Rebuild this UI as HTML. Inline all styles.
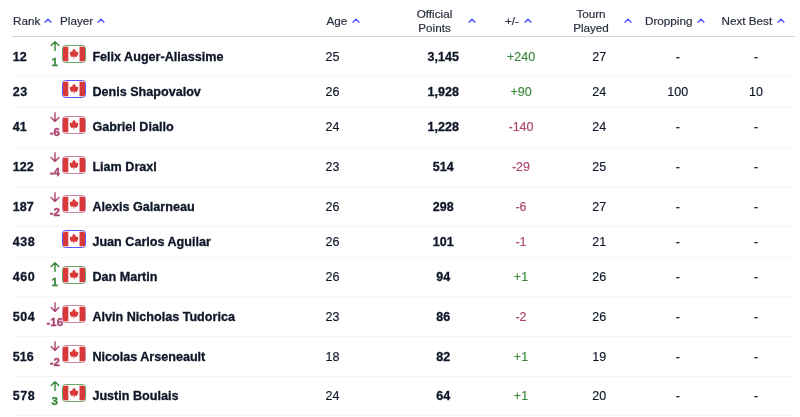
<!DOCTYPE html>
<html><head><meta charset="utf-8"><style>
html,body{margin:0;padding:0;background:#fff;}
body{width:800px;height:417px;position:relative;overflow:hidden;will-change:transform;font-family:"Liberation Sans",sans-serif;}
.h{position:absolute;font-size:11.7px;color:#2a3040;-webkit-text-stroke:0.2px #2a3040;line-height:14px;white-space:nowrap;}
.caret{position:absolute;}
.arr{position:absolute;}
.hb{position:absolute;left:12px;width:783px;height:1px;background:#d4d4d6;}
.sep{position:absolute;left:12px;width:783px;height:1px;background:#f5f5f6;}
.sep2{position:absolute;left:12px;width:783px;height:2px;background:#fafafb;}
.t{position:absolute;font-size:12.5px;line-height:16px;color:#0e1628;-webkit-text-stroke:0.15px currentColor;white-space:nowrap;}
.c{text-align:center;width:80px;}
.b{font-weight:bold;-webkit-text-stroke:0.3px currentColor;}
.mv{position:absolute;-webkit-text-stroke:0.35px currentColor;font-size:11.5px;line-height:12px;font-weight:bold;text-align:center;width:30px;white-space:nowrap;}
.flag{position:absolute;width:22px;height:16px;border:1px solid;border-radius:3.5px;overflow:hidden;background:#fff;}
.flag svg{display:block;}
</style></head><body>

<div class="h" style="left:13px;top:13.8px">Rank</div>
<svg class="caret" style="left:43.6px;top:18.2px" width="8" height="6" viewBox="0 0 8 6"><path d="M1 4.2 L4 1.1 L7 4.2" fill="none" stroke="#4b4bff" stroke-width="1.3" stroke-linecap="round" stroke-linejoin="round"/></svg>
<div class="h" style="left:60px;top:13.8px">Player</div>
<svg class="caret" style="left:96.7px;top:18.2px" width="8" height="6" viewBox="0 0 8 6"><path d="M1 4.2 L4 1.1 L7 4.2" fill="none" stroke="#4b4bff" stroke-width="1.3" stroke-linecap="round" stroke-linejoin="round"/></svg>
<div class="h" style="left:326.5px;top:13.8px">Age</div>
<svg class="caret" style="left:351.7px;top:18.2px" width="8" height="6" viewBox="0 0 8 6"><path d="M1 4.2 L4 1.1 L7 4.2" fill="none" stroke="#4b4bff" stroke-width="1.3" stroke-linecap="round" stroke-linejoin="round"/></svg>
<div class="h" style="left:394.5px;top:6.6px;width:80px;text-align:center;width:40px;left:414.5px">Official<br>Points</div>
<svg class="caret" style="left:467.7px;top:18.2px" width="8" height="6" viewBox="0 0 8 6"><path d="M1 4.2 L4 1.1 L7 4.2" fill="none" stroke="#4b4bff" stroke-width="1.3" stroke-linecap="round" stroke-linejoin="round"/></svg>
<div class="h" style="left:505px;top:13.8px">+/-</div>
<svg class="caret" style="left:523.7px;top:18.2px" width="8" height="6" viewBox="0 0 8 6"><path d="M1 4.2 L4 1.1 L7 4.2" fill="none" stroke="#4b4bff" stroke-width="1.3" stroke-linecap="round" stroke-linejoin="round"/></svg>
<div class="h" style="left:571px;top:6.6px;width:40px;text-align:center">Tourn<br>Played</div>
<svg class="caret" style="left:623.7px;top:18.2px" width="8" height="6" viewBox="0 0 8 6"><path d="M1 4.2 L4 1.1 L7 4.2" fill="none" stroke="#4b4bff" stroke-width="1.3" stroke-linecap="round" stroke-linejoin="round"/></svg>
<div class="h" style="left:645px;top:13.8px">Dropping</div>
<svg class="caret" style="left:696.7px;top:18.2px" width="8" height="6" viewBox="0 0 8 6"><path d="M1 4.2 L4 1.1 L7 4.2" fill="none" stroke="#4b4bff" stroke-width="1.3" stroke-linecap="round" stroke-linejoin="round"/></svg>
<div class="h" style="left:721.5px;top:13.8px">Next Best</div>
<svg class="caret" style="left:776.7px;top:18.2px" width="8" height="6" viewBox="0 0 8 6"><path d="M1 4.2 L4 1.1 L7 4.2" fill="none" stroke="#4b4bff" stroke-width="1.3" stroke-linecap="round" stroke-linejoin="round"/></svg>
<div class="hb" style="top:36px"></div>
<div class="t b" style="left:12.8px;top:48.5px;letter-spacing:0px">12</div>
<svg class="arr" style="left:49.6px;top:41.3px" width="10" height="10" viewBox="0 0 10 10"><path d="M5 9.4 L5 0.8 M1.2 4.6 L5 0.8 L8.8 4.6" fill="none" stroke="#3b873b" stroke-width="1.4" stroke-linecap="round" stroke-linejoin="round"/></svg>
<div class="mv" style="left:39.8px;top:55.6px;color:#3b873b">1</div>
<div class="flag" style="left:62px;top:45px;border-color:#6aa66a"><svg width="22" height="16" viewBox="0 0 22 16"><rect x="0" y="0.7" width="22" height="14.6" fill="#fff"/><rect x="0" y="0.7" width="5.3" height="14.6" fill="#d8383a"/><rect x="16.5" y="0.7" width="5.5" height="14.6" fill="#d8383a"/><path d="M11 2.7 L12.6 4.6 L12.8 6.1 L14 5.6 L15.2 6.2 L15 8.8 L13.6 10.9 L11.4 10.6 L11.3 12.8 L10.7 12.8 L10.6 10.6 L8.4 10.9 L7 8.8 L6.8 6.2 L8 5.6 L9.2 6.1 L9.4 4.6 Z" fill="#d8383a"/></svg></div>
<div class="t b" style="left:92.4px;top:48.5px;font-size:12.6px">Felix Auger-Aliassime</div>
<div class="t" style="left:325.5px;top:48.5px">25</div>
<div class="t b c" style="left:403.2px;top:48.5px">3,145</div>
<div class="t c" style="left:481px;top:48.5px;color:#3b873b">+240</div>
<div class="t c" style="left:559.2px;top:48.5px">27</div>
<div class="t c" style="left:637.8px;top:48.5px">-</div>
<div class="t c" style="left:716px;top:48.5px">-</div>
<div class="sep" style="top:76px"></div>
<div class="t b" style="left:12.8px;top:83.75px;letter-spacing:0.5px">23</div>
<div class="flag" style="left:62px;top:80px;border-color:#5b5bff"><svg width="22" height="16" viewBox="0 0 22 16"><rect x="0" y="0.7" width="22" height="14.6" fill="#fff"/><rect x="0" y="0.7" width="5.3" height="14.6" fill="#d8383a"/><rect x="16.5" y="0.7" width="5.5" height="14.6" fill="#d8383a"/><path d="M11 2.7 L12.6 4.6 L12.8 6.1 L14 5.6 L15.2 6.2 L15 8.8 L13.6 10.9 L11.4 10.6 L11.3 12.8 L10.7 12.8 L10.6 10.6 L8.4 10.9 L7 8.8 L6.8 6.2 L8 5.6 L9.2 6.1 L9.4 4.6 Z" fill="#d8383a"/></svg></div>
<div class="t b" style="left:92.4px;top:83.75px;font-size:12.6px">Denis Shapovalov</div>
<div class="t" style="left:325.5px;top:83.75px">26</div>
<div class="t b c" style="left:403.2px;top:83.75px">1,928</div>
<div class="t c" style="left:481px;top:83.75px;color:#3b873b">+90</div>
<div class="t c" style="left:559.2px;top:83.75px">24</div>
<div class="t c" style="left:637.8px;top:83.75px">100</div>
<div class="t c" style="left:716px;top:83.75px">10</div>
<div class="sep2" style="top:106px"></div>
<div class="t b" style="left:12.8px;top:119.25px;letter-spacing:0px">41</div>
<svg class="arr" style="left:49.6px;top:112.05px" width="10" height="10" viewBox="0 0 10 10"><path d="M5 0.8 L5 9.4 M1.2 5.6 L5 9.4 L8.8 5.6" fill="none" stroke="#ab4470" stroke-width="1.4" stroke-linecap="round" stroke-linejoin="round"/></svg>
<div class="mv" style="left:39.8px;top:126.35px;color:#ab4470">-6</div>
<div class="flag" style="left:62px;top:116px;border-color:#c98aa5"><svg width="22" height="16" viewBox="0 0 22 16"><rect x="0" y="0.7" width="22" height="14.6" fill="#fff"/><rect x="0" y="0.7" width="5.3" height="14.6" fill="#d8383a"/><rect x="16.5" y="0.7" width="5.5" height="14.6" fill="#d8383a"/><path d="M11 2.7 L12.6 4.6 L12.8 6.1 L14 5.6 L15.2 6.2 L15 8.8 L13.6 10.9 L11.4 10.6 L11.3 12.8 L10.7 12.8 L10.6 10.6 L8.4 10.9 L7 8.8 L6.8 6.2 L8 5.6 L9.2 6.1 L9.4 4.6 Z" fill="#d8383a"/></svg></div>
<div class="t b" style="left:92.4px;top:119.25px;font-size:12.6px">Gabriel Diallo</div>
<div class="t" style="left:325.5px;top:119.25px">24</div>
<div class="t b c" style="left:403.2px;top:119.25px">1,228</div>
<div class="t c" style="left:481px;top:119.25px;color:#ab4470">-140</div>
<div class="t c" style="left:559.2px;top:119.25px">24</div>
<div class="t c" style="left:637.8px;top:119.25px">-</div>
<div class="t c" style="left:716px;top:119.25px">-</div>
<div class="sep" style="top:147px"></div>
<div class="t b" style="left:12.8px;top:159.25px;letter-spacing:0px">122</div>
<svg class="arr" style="left:49.6px;top:152.05px" width="10" height="10" viewBox="0 0 10 10"><path d="M5 0.8 L5 9.4 M1.2 5.6 L5 9.4 L8.8 5.6" fill="none" stroke="#ab4470" stroke-width="1.4" stroke-linecap="round" stroke-linejoin="round"/></svg>
<div class="mv" style="left:39.8px;top:166.35px;color:#ab4470">-4</div>
<div class="flag" style="left:62px;top:156px;border-color:#c98aa5"><svg width="22" height="16" viewBox="0 0 22 16"><rect x="0" y="0.7" width="22" height="14.6" fill="#fff"/><rect x="0" y="0.7" width="5.3" height="14.6" fill="#d8383a"/><rect x="16.5" y="0.7" width="5.5" height="14.6" fill="#d8383a"/><path d="M11 2.7 L12.6 4.6 L12.8 6.1 L14 5.6 L15.2 6.2 L15 8.8 L13.6 10.9 L11.4 10.6 L11.3 12.8 L10.7 12.8 L10.6 10.6 L8.4 10.9 L7 8.8 L6.8 6.2 L8 5.6 L9.2 6.1 L9.4 4.6 Z" fill="#d8383a"/></svg></div>
<div class="t b" style="left:92.4px;top:159.25px;font-size:12.6px">Liam Draxl</div>
<div class="t" style="left:325.5px;top:159.25px">23</div>
<div class="t b c" style="left:403.2px;top:159.25px">514</div>
<div class="t c" style="left:481px;top:159.25px;color:#ab4470">-29</div>
<div class="t c" style="left:559.2px;top:159.25px">25</div>
<div class="t c" style="left:637.8px;top:159.25px">-</div>
<div class="t c" style="left:716px;top:159.25px">-</div>
<div class="sep2" style="top:186px"></div>
<div class="t b" style="left:12.8px;top:198.75px;letter-spacing:0px">187</div>
<svg class="arr" style="left:49.6px;top:191.55px" width="10" height="10" viewBox="0 0 10 10"><path d="M5 0.8 L5 9.4 M1.2 5.6 L5 9.4 L8.8 5.6" fill="none" stroke="#ab4470" stroke-width="1.4" stroke-linecap="round" stroke-linejoin="round"/></svg>
<div class="mv" style="left:39.8px;top:205.85px;color:#ab4470">-2</div>
<div class="flag" style="left:62px;top:195px;border-color:#c98aa5"><svg width="22" height="16" viewBox="0 0 22 16"><rect x="0" y="0.7" width="22" height="14.6" fill="#fff"/><rect x="0" y="0.7" width="5.3" height="14.6" fill="#d8383a"/><rect x="16.5" y="0.7" width="5.5" height="14.6" fill="#d8383a"/><path d="M11 2.7 L12.6 4.6 L12.8 6.1 L14 5.6 L15.2 6.2 L15 8.8 L13.6 10.9 L11.4 10.6 L11.3 12.8 L10.7 12.8 L10.6 10.6 L8.4 10.9 L7 8.8 L6.8 6.2 L8 5.6 L9.2 6.1 L9.4 4.6 Z" fill="#d8383a"/></svg></div>
<div class="t b" style="left:92.4px;top:198.75px;font-size:12.6px">Alexis Galarneau</div>
<div class="t" style="left:325.5px;top:198.75px">26</div>
<div class="t b c" style="left:403.2px;top:198.75px">298</div>
<div class="t c" style="left:481px;top:198.75px;color:#ab4470">-6</div>
<div class="t c" style="left:559.2px;top:198.75px">27</div>
<div class="t c" style="left:637.8px;top:198.75px">-</div>
<div class="t c" style="left:716px;top:198.75px">-</div>
<div class="sep" style="top:226px"></div>
<div class="t b" style="left:12.8px;top:234.0px;letter-spacing:0.5px">438</div>
<div class="flag" style="left:62px;top:230px;border-color:#5b5bff"><svg width="22" height="16" viewBox="0 0 22 16"><rect x="0" y="0.7" width="22" height="14.6" fill="#fff"/><rect x="0" y="0.7" width="5.3" height="14.6" fill="#d8383a"/><rect x="16.5" y="0.7" width="5.5" height="14.6" fill="#d8383a"/><path d="M11 2.7 L12.6 4.6 L12.8 6.1 L14 5.6 L15.2 6.2 L15 8.8 L13.6 10.9 L11.4 10.6 L11.3 12.8 L10.7 12.8 L10.6 10.6 L8.4 10.9 L7 8.8 L6.8 6.2 L8 5.6 L9.2 6.1 L9.4 4.6 Z" fill="#d8383a"/></svg></div>
<div class="t b" style="left:92.4px;top:234.0px;font-size:12.6px">Juan Carlos Aguilar</div>
<div class="t" style="left:325.5px;top:234.0px">26</div>
<div class="t b c" style="left:403.2px;top:234.0px">101</div>
<div class="t c" style="left:481px;top:234.0px;color:#ab4470">-1</div>
<div class="t c" style="left:559.2px;top:234.0px">21</div>
<div class="t c" style="left:637.8px;top:234.0px">-</div>
<div class="t c" style="left:716px;top:234.0px">-</div>
<div class="sep" style="top:257px"></div>
<div class="t b" style="left:12.8px;top:269.25px;letter-spacing:0.5px">460</div>
<svg class="arr" style="left:49.6px;top:262.05px" width="10" height="10" viewBox="0 0 10 10"><path d="M5 9.4 L5 0.8 M1.2 4.6 L5 0.8 L8.8 4.6" fill="none" stroke="#3b873b" stroke-width="1.4" stroke-linecap="round" stroke-linejoin="round"/></svg>
<div class="mv" style="left:39.8px;top:276.35px;color:#3b873b">1</div>
<div class="flag" style="left:62px;top:266px;border-color:#6aa66a"><svg width="22" height="16" viewBox="0 0 22 16"><rect x="0" y="0.7" width="22" height="14.6" fill="#fff"/><rect x="0" y="0.7" width="5.3" height="14.6" fill="#d8383a"/><rect x="16.5" y="0.7" width="5.5" height="14.6" fill="#d8383a"/><path d="M11 2.7 L12.6 4.6 L12.8 6.1 L14 5.6 L15.2 6.2 L15 8.8 L13.6 10.9 L11.4 10.6 L11.3 12.8 L10.7 12.8 L10.6 10.6 L8.4 10.9 L7 8.8 L6.8 6.2 L8 5.6 L9.2 6.1 L9.4 4.6 Z" fill="#d8383a"/></svg></div>
<div class="t b" style="left:92.4px;top:269.25px;font-size:12.6px">Dan Martin</div>
<div class="t" style="left:325.5px;top:269.25px">26</div>
<div class="t b c" style="left:403.2px;top:269.25px">94</div>
<div class="t c" style="left:481px;top:269.25px;color:#3b873b">+1</div>
<div class="t c" style="left:559.2px;top:269.25px">26</div>
<div class="t c" style="left:637.8px;top:269.25px">-</div>
<div class="t c" style="left:716px;top:269.25px">-</div>
<div class="sep2" style="top:296px"></div>
<div class="t b" style="left:12.8px;top:308.75px;letter-spacing:0.5px">504</div>
<svg class="arr" style="left:49.6px;top:301.55px" width="10" height="10" viewBox="0 0 10 10"><path d="M5 0.8 L5 9.4 M1.2 5.6 L5 9.4 L8.8 5.6" fill="none" stroke="#ab4470" stroke-width="1.4" stroke-linecap="round" stroke-linejoin="round"/></svg>
<div class="mv" style="left:39.8px;top:315.85px;color:#ab4470">-16</div>
<div class="flag" style="left:62px;top:305px;border-color:#c98aa5"><svg width="22" height="16" viewBox="0 0 22 16"><rect x="0" y="0.7" width="22" height="14.6" fill="#fff"/><rect x="0" y="0.7" width="5.3" height="14.6" fill="#d8383a"/><rect x="16.5" y="0.7" width="5.5" height="14.6" fill="#d8383a"/><path d="M11 2.7 L12.6 4.6 L12.8 6.1 L14 5.6 L15.2 6.2 L15 8.8 L13.6 10.9 L11.4 10.6 L11.3 12.8 L10.7 12.8 L10.6 10.6 L8.4 10.9 L7 8.8 L6.8 6.2 L8 5.6 L9.2 6.1 L9.4 4.6 Z" fill="#d8383a"/></svg></div>
<div class="t b" style="left:92.4px;top:308.75px;font-size:12.6px">Alvin Nicholas Tudorica</div>
<div class="t" style="left:325.5px;top:308.75px">23</div>
<div class="t b c" style="left:403.2px;top:308.75px">86</div>
<div class="t c" style="left:481px;top:308.75px;color:#ab4470">-2</div>
<div class="t c" style="left:559.2px;top:308.75px">26</div>
<div class="t c" style="left:637.8px;top:308.75px">-</div>
<div class="t c" style="left:716px;top:308.75px">-</div>
<div class="sep" style="top:336px"></div>
<div class="t b" style="left:12.8px;top:348.5px;letter-spacing:0px">516</div>
<svg class="arr" style="left:49.6px;top:341.3px" width="10" height="10" viewBox="0 0 10 10"><path d="M5 0.8 L5 9.4 M1.2 5.6 L5 9.4 L8.8 5.6" fill="none" stroke="#ab4470" stroke-width="1.4" stroke-linecap="round" stroke-linejoin="round"/></svg>
<div class="mv" style="left:39.8px;top:355.6px;color:#ab4470">-2</div>
<div class="flag" style="left:62px;top:345px;border-color:#c98aa5"><svg width="22" height="16" viewBox="0 0 22 16"><rect x="0" y="0.7" width="22" height="14.6" fill="#fff"/><rect x="0" y="0.7" width="5.3" height="14.6" fill="#d8383a"/><rect x="16.5" y="0.7" width="5.5" height="14.6" fill="#d8383a"/><path d="M11 2.7 L12.6 4.6 L12.8 6.1 L14 5.6 L15.2 6.2 L15 8.8 L13.6 10.9 L11.4 10.6 L11.3 12.8 L10.7 12.8 L10.6 10.6 L8.4 10.9 L7 8.8 L6.8 6.2 L8 5.6 L9.2 6.1 L9.4 4.6 Z" fill="#d8383a"/></svg></div>
<div class="t b" style="left:92.4px;top:348.5px;font-size:12.6px">Nicolas Arseneault</div>
<div class="t" style="left:325.5px;top:348.5px">18</div>
<div class="t b c" style="left:403.2px;top:348.5px">82</div>
<div class="t c" style="left:481px;top:348.5px;color:#3b873b">+1</div>
<div class="t c" style="left:559.2px;top:348.5px">19</div>
<div class="t c" style="left:637.8px;top:348.5px">-</div>
<div class="t c" style="left:716px;top:348.5px">-</div>
<div class="sep" style="top:376px"></div>
<div class="t b" style="left:12.8px;top:388.0px;letter-spacing:0.5px">578</div>
<svg class="arr" style="left:49.6px;top:380.8px" width="10" height="10" viewBox="0 0 10 10"><path d="M5 9.4 L5 0.8 M1.2 4.6 L5 0.8 L8.8 4.6" fill="none" stroke="#3b873b" stroke-width="1.4" stroke-linecap="round" stroke-linejoin="round"/></svg>
<div class="mv" style="left:39.8px;top:395.1px;color:#3b873b">3</div>
<div class="flag" style="left:62px;top:384px;border-color:#6aa66a"><svg width="22" height="16" viewBox="0 0 22 16"><rect x="0" y="0.7" width="22" height="14.6" fill="#fff"/><rect x="0" y="0.7" width="5.3" height="14.6" fill="#d8383a"/><rect x="16.5" y="0.7" width="5.5" height="14.6" fill="#d8383a"/><path d="M11 2.7 L12.6 4.6 L12.8 6.1 L14 5.6 L15.2 6.2 L15 8.8 L13.6 10.9 L11.4 10.6 L11.3 12.8 L10.7 12.8 L10.6 10.6 L8.4 10.9 L7 8.8 L6.8 6.2 L8 5.6 L9.2 6.1 L9.4 4.6 Z" fill="#d8383a"/></svg></div>
<div class="t b" style="left:92.4px;top:388.0px;font-size:12.6px">Justin Boulais</div>
<div class="t" style="left:325.5px;top:388.0px">24</div>
<div class="t b c" style="left:403.2px;top:388.0px">64</div>
<div class="t c" style="left:481px;top:388.0px;color:#3b873b">+1</div>
<div class="t c" style="left:559.2px;top:388.0px">20</div>
<div class="t c" style="left:637.8px;top:388.0px">-</div>
<div class="t c" style="left:716px;top:388.0px">-</div>
<div class="sep" style="top:415px"></div>
</body></html>
